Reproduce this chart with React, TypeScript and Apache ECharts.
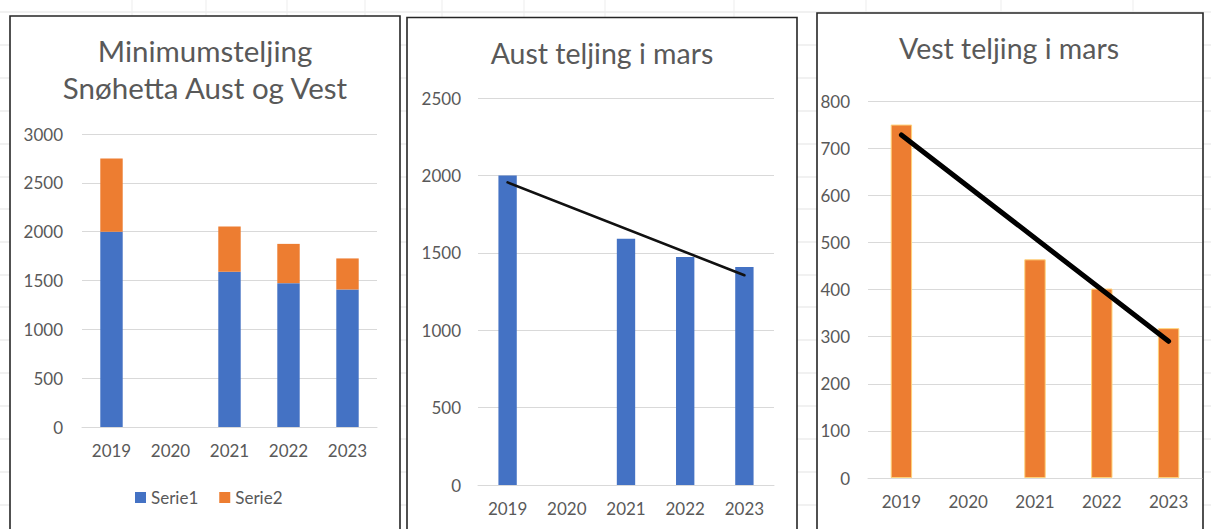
import React, { useEffect, useRef } from "react";
import * as echarts from "echarts";

// ---- data ----
const years = ["2019", "2020", "2021", "2022", "2023"];
const aust = [2000, null, 1590, 1473, 1408];
const vest = [750, null, 464, 402, 318];
const austTrend = [1955, null, null, null, 1355];
const vestTrend = [728, null, null, null, 290];
const legendNames = ["Serie1", "Serie2"];
const titles = ["Minimumsteljing\nSnøhetta Aust og Vest", "Aust teljing i mars", "Vest teljing i mars"];
const yMax = [3000, 2500, 800];
const yStep = [500, 500, 100];

// ---- style ----
const BLUE = "#4472C4";
const ORANGE = "#ED7D31";
const TEXT = "#595959";
const GRIDC = "#D9D9D9";
const FONT = "Lato, 'Noto Sans', sans-serif";

const boxes = [
  { x: 10, y: 16, w: 390, h: 530 },
  { x: 407, y: 17.5, w: 390, h: 530 },
  { x: 817, y: 13, w: 386, h: 530 },
];
const grids = [
  { left: 82, top: 134, width: 295, height: 293 },
  { left: 478, top: 98, width: 296, height: 387 },
  { left: 868, top: 101, width: 334, height: 377 },
];
const labelMargins = [19, 17, 18];
const titlePos = [
  { x: 205, y: 69, size: 29.5 },
  { x: 602, y: 53, size: 28.5 },
  { x: 1009, y: 48, size: 28.5 },
];
const sheetRows = [12, 45, 78, 111, 144, 177, 209, 242, 275, 307, 340, 373, 406, 439, 472, 505];
const sheetCols = [132, 206, 287, 365, 442, 524, 605, 734, 866, 1001, 1133];

export default function App() {
  const ref = useRef<HTMLDivElement>(null);
  useEffect(() => {
    if (!ref.current) return;
    const chart = echarts.init(ref.current, undefined, { renderer: "svg" });

    const bg: any[] = [];
    sheetRows.forEach((y) =>
      bg.push({
        type: "line",
        z: -20,
        shape: { x1: 0, y1: y, x2: 1211, y2: y },
        style: { stroke: "#E3E3E3", lineWidth: 1 },
      })
    );
    sheetCols.forEach((x) =>
      bg.push({
        type: "line",
        z: -20,
        shape: { x1: x, y1: 0, x2: x, y2: 529 },
        style: { stroke: "#EDEDED", lineWidth: 1 },
      })
    );
    boxes.forEach((b) =>
      bg.push({
        type: "rect",
        z: -10,
        shape: { x: b.x, y: b.y, width: b.w, height: b.h },
        style: { fill: "#fff", stroke: "#262626", lineWidth: 1.6 },
      })
    );
    titles.forEach((t, i) =>
      bg.push({
        type: "text",
        z: 10,
        x: titlePos[i].x,
        y: titlePos[i].y,
        style: {
          text: t,
          fill: TEXT,
          font: `${titlePos[i].size}px ${FONT}`,
          lineHeight: 37,
          align: "center",
          verticalAlign: "middle",
        },
      })
    );

    const xAxis = grids.map((_, i) => ({
      type: "category",
      gridIndex: i,
      data: years,
      axisLine: { show: true, lineStyle: { color: GRIDC, width: 1 } },
      axisTick: { show: false },
      axisLabel: { color: TEXT, fontSize: 17, fontFamily: FONT, margin: 15 },
    }));
    const yAxis = grids.map((_, i) => ({
      type: "value",
      gridIndex: i,
      min: 0,
      max: yMax[i],
      interval: yStep[i],
      axisLine: { show: false },
      axisTick: { show: false },
      splitLine: { lineStyle: { color: GRIDC, width: 1 } },
      axisLabel: {
        color: TEXT,
        fontSize: 17,
        fontFamily: FONT,
        margin: labelMargins[i],
        formatter: (v: number) => String(v),
      },
    }));

    chart.setOption({
      animation: false,
      backgroundColor: "#fff",
      graphic: { elements: bg },
      legend: {
        data: legendNames,
        left: 135,
        top: 489,
        padding: 0,
        itemWidth: 11,
        itemHeight: 11,
        itemGap: 21,
        icon: "rect",
        textStyle: { color: TEXT, fontSize: 17, fontFamily: FONT },
      },
      grid: grids.map((g) => ({ ...g, containLabel: false })),
      xAxis,
      yAxis,
      series: [
        {
          name: legendNames[0],
          type: "bar",
          stack: "total",
          xAxisIndex: 0,
          yAxisIndex: 0,
          data: aust,
          barWidth: "38%",
          itemStyle: { color: BLUE },
        },
        {
          name: legendNames[1],
          type: "bar",
          stack: "total",
          xAxisIndex: 0,
          yAxisIndex: 0,
          data: vest,
          barWidth: "38%",
          itemStyle: { color: ORANGE },
        },
        {
          name: "Aust",
          type: "bar",
          xAxisIndex: 1,
          yAxisIndex: 1,
          data: aust,
          barWidth: "31%",
          itemStyle: { color: BLUE },
        },
        {
          name: "Aust trend",
          type: "line",
          xAxisIndex: 1,
          yAxisIndex: 1,
          data: austTrend,
          connectNulls: true,
          symbol: "none",
          z: 5,
          lineStyle: { color: "#111", width: 2.6, cap: "round" },
        },
        {
          name: "Vest",
          type: "bar",
          xAxisIndex: 2,
          yAxisIndex: 2,
          data: vest,
          barWidth: "32%",
          itemStyle: { color: ORANGE, borderColor: "#FFD27A", borderWidth: 1 },
        },
        {
          name: "Vest trend",
          type: "line",
          xAxisIndex: 2,
          yAxisIndex: 2,
          data: vestTrend,
          connectNulls: true,
          symbol: "none",
          z: 5,
          lineStyle: { color: "#000", width: 5, cap: "round" },
        },
      ],
    });
    return () => chart.dispose();
  }, []);

  return (
    <div
      ref={ref}
      style={{ position: "absolute", left: 0, top: 0, width: 1211, height: 529 }}
    />
  );
}
